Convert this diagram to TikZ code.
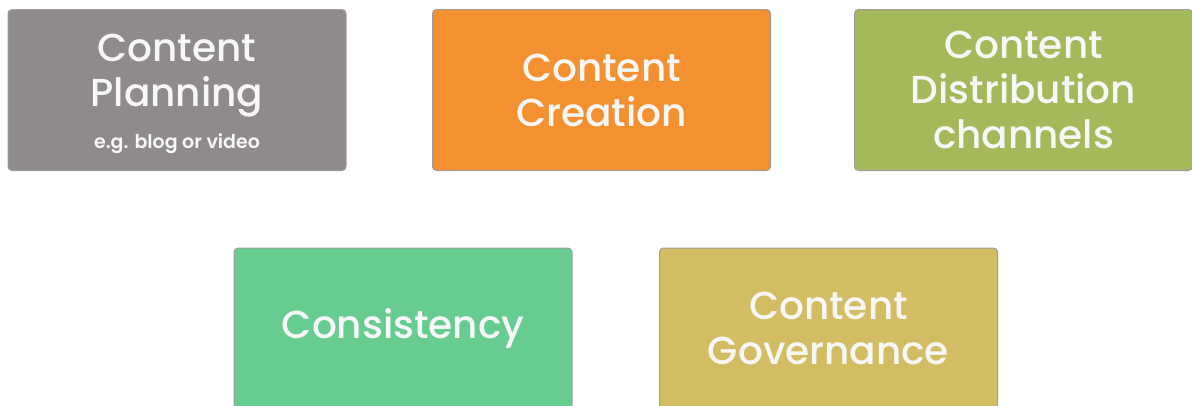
\documentclass[tikz,border=0pt]{standalone}
\usepackage{xcolor}
\usepackage{fontspec}
\usepackage{tikz}
\setmainfont{Poppins}
\newfontfamily\boxfont{Poppins Medium}
\newfontfamily\notefont{Poppins SemiBold}
\definecolor{planninggray}{HTML}{8F8A8C}
\definecolor{creationorange}{HTML}{F39131}
\definecolor{channelgreen}{HTML}{A3B95A}
\definecolor{consistgreen}{HTML}{67CC90}
\definecolor{governkhaki}{HTML}{D3BD63}
\definecolor{edgegray}{HTML}{A09C9A}

\begin{document}
\begin{tikzpicture}[x=1pt, y=-1pt,
        topic/.style={rectangle, draw=edgegray, line width=1pt, rounded corners=4pt,
                     minimum width=338pt, minimum height=161pt, inner sep=0pt,
                     align=center, text=white!97!black,
                     font=\boxfont\fontsize{39}{45}\selectfont}
    ]
        \useasboundingbox (0,0) rectangle (1192,405);
        \clip (0,0) rectangle (1192,405);

        % Top row
        \node[topic, fill=planninggray] (planning) at (177,90)
            {\rule{0pt}{36pt}Content\\Planning\\[-3pt]{\notefont\fontsize{19}{22}\selectfont e.g. blog or video}};
        \node[topic, fill=creationorange] (creation) at (601.5,90) {Content\\Creation};
        \node[topic, fill=channelgreen] (channels) at (1023.5,90) {Content\\Distribution\\channels};

        % Bottom row
        \node[topic, fill=consistgreen] (consistency) at (403,328.5) {Consistency};
        \node[topic, fill=governkhaki] (governance) at (828.5,328.5) {Content\\Governance};

    \end{tikzpicture}
\end{document}
